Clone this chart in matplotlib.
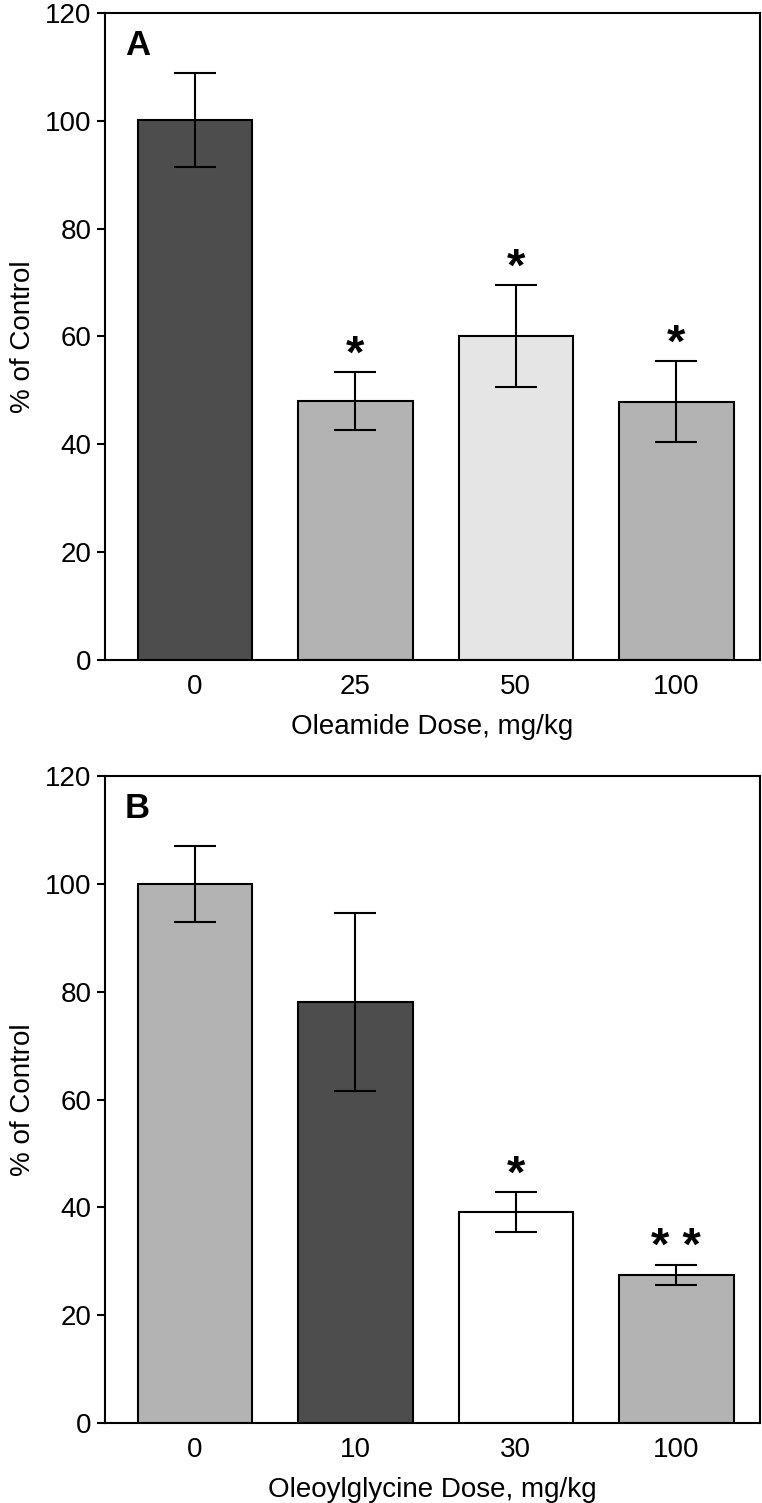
import numpy as np
import matplotlib.pyplot as plt

plt.rcParams['font.family'] = ['Liberation Sans', 'DejaVu Sans']

# panel A: oleamide
doses_a = ['0', '25', '50', '100']
mean_a = [100.2, 48.0, 60.1, 47.9]
sem_a = [8.7, 5.4, 9.5, 7.5]
colors_a = ['#4d4d4d', '#b3b3b3', '#e5e5e5', '#b3b3b3']
stars_a = ['', '*', '*', '*']

# panel B: oleoylglycine
doses_b = ['0', '10', '30', '100']
mean_b = [100.0, 78.0, 39.1, 27.5]
sem_b = [7.0, 16.5, 3.7, 1.9]
colors_b = ['#b3b3b3', '#4d4d4d', '#ffffff', '#b3b3b3']
stars_b = ['', '', '*', '* *']


def draw_panel(ax, labels, means, errs, colors, stars, xlabel, letter):
    x = np.arange(len(labels))
    ax.bar(x, means, width=0.715, color=colors, edgecolor='black', linewidth=1.5, zorder=2)
    ax.errorbar(x, means, yerr=errs, fmt='none', ecolor='black', elinewidth=1.5,
                capsize=15, capthick=1.5, zorder=3)
    for xi, m, e, s in zip(x, means, errs, stars):
        if s:
            ax.annotate(s, (xi, m + e), xytext=(0, -4), textcoords='offset points',
                        ha='center', va='bottom', fontsize=34, fontweight='bold')
    ax.set_xlim(-0.56, 3.52)
    ax.set_ylim(0, 120)
    ax.set_yticks([0, 20, 40, 60, 80, 100, 120])
    ax.set_xticks(x)
    ax.set_xticklabels(labels)
    ax.tick_params(axis='x', length=0, pad=10, labelsize=20)
    ax.tick_params(axis='y', length=6, width=1.5, direction='out', pad=4, labelsize=20)
    for sp in ax.spines.values():
        sp.set_linewidth(1.5)
    ax.set_xlabel(xlabel, fontsize=20, labelpad=10)
    ax.set_ylabel('% of Control', fontsize=20, labelpad=6)
    ax.text(0.03, 0.975, letter, transform=ax.transAxes, fontsize=25, fontweight='bold',
            ha='left', va='top')


fig = plt.figure(figsize=(7.62, 15.03), dpi=100)
ax1 = fig.add_axes([0.138, 0.5609, 0.859, 0.4305])
ax2 = fig.add_axes([0.138, 0.0532, 0.859, 0.4305])

draw_panel(ax1, doses_a, mean_a, sem_a, colors_a, stars_a, 'Oleamide Dose, mg/kg', 'A')
draw_panel(ax2, doses_b, mean_b, sem_b, colors_b, stars_b, 'Oleoylglycine Dose, mg/kg', 'B')

fig.savefig('out.png', dpi=100)
